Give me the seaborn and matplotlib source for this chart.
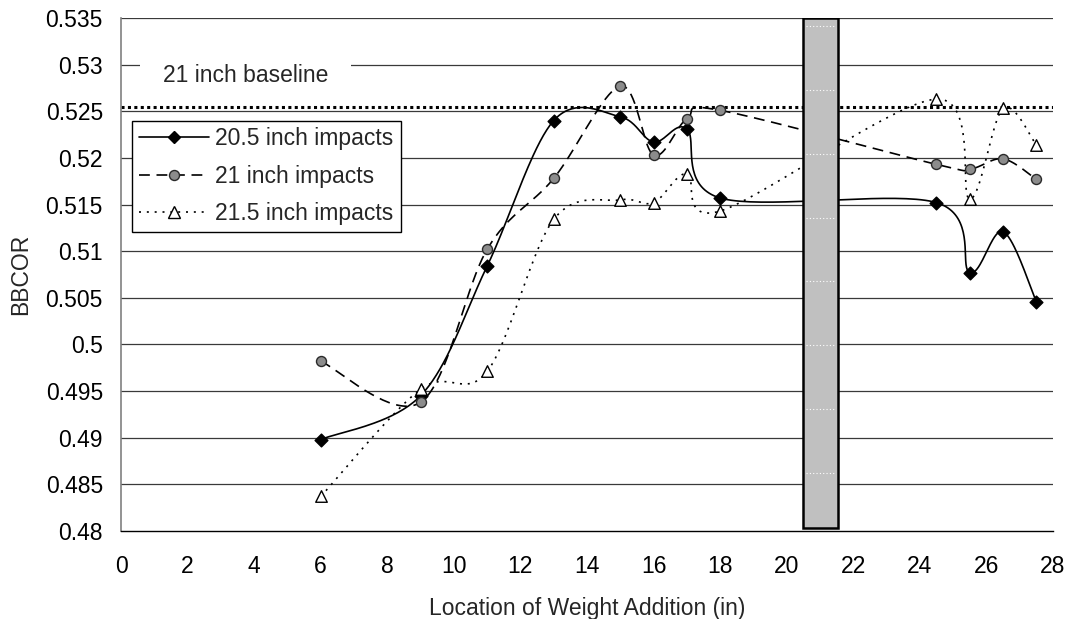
import numpy as np
import pandas as pd
import matplotlib
matplotlib.use("Agg")
import matplotlib.pyplot as plt
from matplotlib.lines import Line2D
from matplotlib.ticker import FuncFormatter
import seaborn as sns

# ---- data -------------------------------------------------------------
x_205 = [6, 9, 11, 13, 15, 16, 17, 18, 24.5, 25.5, 26.5, 27.5]
y_205 = [0.4898, 0.4945, 0.5084, 0.5240, 0.5244, 0.5217, 0.5231, 0.5157,
         0.5152, 0.5077, 0.5121, 0.5046]

x_21 = [6, 9, 11, 13, 15, 16, 17, 18, 24.5, 25.5, 26.5, 27.5]
y_21 = [0.4982, 0.4938, 0.5102, 0.5178, 0.5277, 0.5203, 0.5242, 0.5251,
        0.5193, 0.5188, 0.5199, 0.5177]

x_215 = [6, 9, 11, 13, 15, 16, 17, 18, 24.5, 25.5, 26.5, 27.5]
y_215 = [0.4837, 0.4952, 0.4971, 0.5134, 0.5155, 0.5152, 0.5183, 0.5143,
         0.5263, 0.5156, 0.5253, 0.5214]

baseline_value = 0.5254
baseline_label = "21 inch baseline"

# handle location shown as a shaded column
handle_left, handle_right = 20.5, 21.55
handle_bottom, handle_top = 0.4803, 0.535

series_labels = ["20.5 inch impacts", "21 inch impacts", "21.5 inch impacts"]
x_label = "Location of Weight Addition (in)"
y_label = "BBCOR"
x_ticks = list(range(0, 29, 2))
y_ticks = [0.48, 0.485, 0.49, 0.495, 0.5, 0.505, 0.51, 0.515, 0.52, 0.525,
           0.53, 0.535]

FS = 16.5


def smooth_curve(xs, ys, n=40):
    """Bezier-smoothed path through the points (Catmull-Rom style)."""
    p = np.column_stack([xs, ys]).astype(float)
    ext = np.vstack([p[0], p, p[-1]])
    out = []
    t = np.linspace(0, 1, n)[:, None]
    for i in range(len(p) - 1):
        p0, p1 = ext[i + 1], ext[i + 2]
        c1 = p0 + (ext[i + 2] - ext[i]) / 6.0
        c2 = p1 - (ext[i + 3] - ext[i + 1]) / 6.0
        seg = ((1 - t) ** 3) * p0 + 3 * ((1 - t) ** 2) * t * c1 \
            + 3 * (1 - t) * t ** 2 * c2 + t ** 3 * p1
        out.append(seg if i == 0 else seg[1:])
    pts = np.vstack(out)
    return pts[:, 0], pts[:, 1]


# ---- style ------------------------------------------------------------
sns.set_style("white")
plt.rcParams["font.family"] = ["Liberation Sans", "DejaVu Sans"]
plt.rcParams["font.size"] = FS

fig = plt.figure(figsize=(10.70, 6.19), dpi=100)
ax = fig.add_axes([0.1131, 0.1422, 0.9841 - 0.1131, 0.971 - 0.1422])

ax.set_xlim(0, 28)
ax.set_ylim(0.48, 0.535)

# horizontal gridlines
for yv in y_ticks[1:]:
    ax.axhline(yv, color="#3a3a3a", lw=0.9, zorder=0.5)

styles = [
    dict(ls="-", dashes=None, marker="D", mfc="black", mec="black", ms=6.5),
    dict(ls="--", dashes=(6.5, 4), marker="o", mfc="#8c8c8c", mec="#2a2a2a", ms=7.2),
    dict(ls=":", dashes=(1.2, 3.5), marker="^", mfc="white", mec="black", ms=8.3),
]
datasets = [(x_205, y_205), (x_21, y_21), (x_215, y_215)]

for (xs, ys), st, lab in zip(datasets, styles, series_labels):
    sx, sy = smooth_curve(xs, ys)
    line, = ax.plot(sx, sy, color="black", lw=1.2, ls=st["ls"], zorder=2)
    if st["dashes"] is not None:
        line.set_dashes(st["dashes"])
    df = pd.DataFrame({"x": xs, "y": ys})
    sns.scatterplot(data=df, x="x", y="y", ax=ax, marker=st["marker"],
                    s=st["ms"] ** 2, color=st["mfc"], edgecolor=st["mec"],
                    linewidth=1.0, zorder=3, legend=False)

# baseline
ax.axhline(baseline_value, color="black", lw=2.2, ls=(0, (1, 1.1)), zorder=2.5)
ax.text(3.75, 0.5288, baseline_label, ha="center", va="center", fontsize=FS,
        zorder=1.5,
        bbox=dict(boxstyle="square,pad=1.0", fc="white", ec="none"))

# shaded handle column
ax.bar([(handle_left + handle_right) / 2], [handle_top - handle_bottom],
       bottom=handle_bottom, width=handle_right - handle_left,
       color="#c0c0c0", edgecolor="black", linewidth=1.8, zorder=4)
for yv in np.arange(0.4862, handle_top, 0.00685):
    ax.plot([handle_left + 0.08, handle_right - 0.08], [yv, yv], color="white",
            lw=0.8, ls=(0, (1, 2)), zorder=4.5)

# axes cosmetics
for side in ["top", "right"]:
    ax.spines[side].set_visible(False)
ax.spines["left"].set_color("#808080")
ax.spines["left"].set_linewidth(1.2)
ax.spines["bottom"].set_color("black")
ax.spines["bottom"].set_linewidth(1.0)

ax.set_xticks(x_ticks)
ax.set_yticks(y_ticks)
ax.yaxis.set_major_formatter(FuncFormatter(lambda v, _: f"{round(v, 4):g}"))
ax.tick_params(axis="x", direction="in", length=4.5, width=0.9, pad=17,
               labelsize=FS, colors="black")
ax.tick_params(axis="y", direction="in", length=4.5, width=0.9, pad=13,
               labelsize=FS, colors="black")
ax.tick_params(axis="y", color="#3a3a3a")
ax.set_xlabel(x_label, fontsize=FS, labelpad=14)
ax.set_ylabel(y_label, fontsize=FS, labelpad=10)

# legend
handles = []
for st, lab in zip(styles, series_labels):
    h = Line2D([], [], color="black", lw=1.2, ls=st["ls"], marker=st["marker"],
               markerfacecolor=st["mfc"], markeredgecolor=st["mec"],
               markersize=st["ms"])
    if st["dashes"] is not None:
        h.set_dashes(st["dashes"])
    handles.append(h)
leg = ax.legend(handles, series_labels, loc="upper left",
                bbox_to_anchor=(0.0115, 0.80), frameon=True, fancybox=False,
                edgecolor="black", framealpha=1, fontsize=FS, handlelength=3.05,
                handletextpad=0.3, labelspacing=0.62, borderpad=0.3,
                borderaxespad=0.0)
leg.get_frame().set_linewidth(1.0)
leg.set_zorder(6)

fig.savefig("out.png", dpi=100)
